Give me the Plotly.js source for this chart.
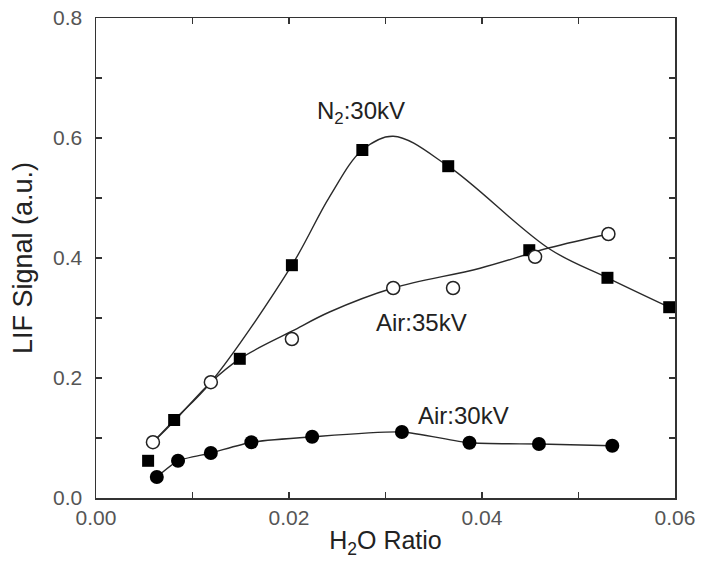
<!DOCTYPE html>
<html>
<head>
<meta charset="utf-8">
<script src="https://cdn.plot.ly/plotly-3.0.1.min.js"></script>
<style>html,body{margin:0;padding:0;background:#fff;}#chart{width:706px;height:561px;}</style>
</head>
<body>
<div id="chart"></div>
<script>
// N2:30kV measured points (filled squares)
var n2X = [0.0054, 0.0081, 0.0149, 0.0203, 0.0276, 0.0365, 0.0449, 0.0530, 0.0594];
var n2Y = [0.062, 0.130, 0.232, 0.388, 0.580, 0.553, 0.413, 0.367, 0.318];
// N2:30kV fitted curve
var n2FitX = [0.0059, 0.0081, 0.0119, 0.0203, 0.0242, 0.0276, 0.0308, 0.0365, 0.0470, 0.0530, 0.0594];
var n2FitY = [0.093, 0.130, 0.193, 0.388, 0.502, 0.580, 0.603, 0.553, 0.415, 0.367, 0.318];

// Air:35kV measured points (open circles)
var air35X = [0.0059, 0.0119, 0.0203, 0.0308, 0.0370, 0.0455, 0.0531];
var air35Y = [0.093, 0.193, 0.265, 0.350, 0.350, 0.402, 0.440];
// Air:35kV fitted curve
var air35FitX = [0.0059, 0.0081, 0.0119, 0.0149, 0.0203, 0.0242, 0.0308, 0.0398, 0.0470, 0.0531];
var air35FitY = [0.093, 0.128, 0.193, 0.232, 0.278, 0.310, 0.350, 0.383, 0.417, 0.440];

// Air:30kV measured points (filled circles)
var air30X = [0.0063, 0.0085, 0.0119, 0.0161, 0.0224, 0.0317, 0.0387, 0.0459, 0.0535];
var air30Y = [0.035, 0.062, 0.075, 0.093, 0.102, 0.110, 0.092, 0.090, 0.087];

// axis tick labels
var xTickVals = [0, 0.01, 0.02, 0.03, 0.04, 0.05, 0.06];
var xTickText = ['0.00', '', '0.02', '', '0.04', '', '0.06'];
var yTickVals = [0, 0.1, 0.2, 0.3, 0.4, 0.5, 0.6, 0.7, 0.8];
var yTickText = ['0.0', '', '0.2', '', '0.4', '', '0.6', '', '0.8'];

// curve labels
var labelText = ['N<sub>2</sub>:30kV', 'Air:35kV', 'Air:30kV'];
var labelX = [0.02746, 0.03378, 0.03813];
var labelY = [0.642, 0.292, 0.138];

var FONT = 'Liberation Sans, Arial, Helvetica, sans-serif';
var lineCol = '#2a2a2a';

var traces = [
  {x: n2FitX, y: n2FitY, mode: 'lines', line: {shape: 'spline', smoothing: 1, color: lineCol, width: 1.4}},
  {x: air35FitX, y: air35FitY, mode: 'lines', line: {shape: 'spline', smoothing: 1, color: lineCol, width: 1.4}},
  {x: air30X, y: air30Y, mode: 'lines', line: {shape: 'spline', smoothing: 0.6, color: lineCol, width: 1.4}},
  {x: n2X, y: n2Y, mode: 'markers',
   marker: {symbol: 'square', size: 12, color: '#000', line: {width: 0}}},
  {x: air35X, y: air35Y, mode: 'markers',
   marker: {symbol: 'circle', size: 13, color: '#fff', line: {width: 1.5, color: '#222'}}},
  {x: air30X, y: air30Y, mode: 'markers',
   marker: {symbol: 'circle', size: 14, color: '#000', line: {width: 0}}}
];

var annotations = labelText.map(function (t, i) {
  return {x: labelX[i], y: labelY[i], xref: 'x', yref: 'y', text: t, showarrow: false,
          font: {family: FONT, size: 24, color: '#222'}};
});

var axisCommon = {
  showline: true, linecolor: '#333', linewidth: 1.5, mirror: 'ticks',
  ticks: 'inside', ticklen: 6, tickwidth: 1.2, tickcolor: '#333',
  showgrid: false, zeroline: false, tickmode: 'array',
  tickfont: {family: FONT, size: 21, color: '#555'}
};

var layout = {
  width: 706, height: 561,
  margin: {l: 96, r: 31, t: 18, b: 63},
  paper_bgcolor: '#fff', plot_bgcolor: '#fff',
  showlegend: false,
  xaxis: Object.assign({}, axisCommon, {
    range: [0, 0.06], tickvals: xTickVals, ticktext: xTickText,
    title: {text: 'H<sub>2</sub>O Ratio', standoff: 4, font: {family: FONT, size: 25, color: '#222'}}
  }),
  yaxis: Object.assign({}, axisCommon, {
    range: [0, 0.8], tickvals: yTickVals, ticktext: yTickText, ticklabelstandoff: 8,
    title: {text: 'LIF Signal (a.u.)', standoff: 12, font: {family: FONT, size: 27, color: '#222'}}
  }),
  annotations: annotations
};

Plotly.newPlot('chart', traces, layout, {displayModeBar: false, staticPlot: true});
</script>
</body>
</html>
